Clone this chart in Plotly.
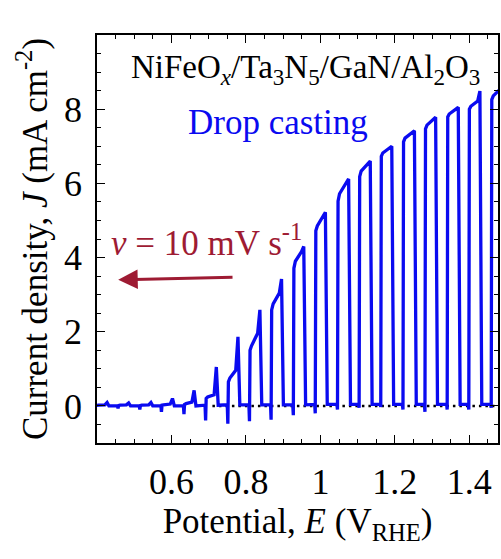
import plotly.graph_objects as go

# ---- data (chopped-light LSV) ----
# left edge (light-off transient) and right edge (light-on spike) of each illuminated segment, V_RHE
pulse_left = [0.397, 0.455, 0.5135, 0.5716, 0.6321, 0.6902, 0.7499, 0.8080, 0.8661, 0.9258,
              0.9847, 1.0444, 1.1025, 1.1606, 1.2203, 1.2793, 1.3390, 1.3971, 1.4573]
pulse_right = [0.427, 0.485, 0.5448, 0.6027, 0.6608, 0.7205, 0.7786, 0.8375, 0.8956, 0.9553,
               1.0134, 1.0758, 1.1339, 1.1917, 1.2525, 1.3095, 1.3703, 1.4284, 1.490]
dip_val = [0.0, -0.07, -0.10, -0.16, -0.22, -0.39, -0.48, -0.41, -0.37, -0.25,
           -0.20, -0.10, -0.05, -0.03, -0.10, -0.16, -0.10, -0.10, -0.05]
plateau_start = [0.02, 0.01, 0.01, 0.02, 0.04, 0.20, 0.65, 1.50, 2.59, 3.71,
                 4.72, 5.52, 6.18, 6.73, 7.12, 7.47, 7.79, 8.00, 8.26]
plateau_shoulder = [0.02, 0.02, 0.02, 0.03, 0.06, 0.24, 0.75, 1.62, 2.75, 3.90,
                    4.85, 5.72, 6.33, 6.82, 7.22, 7.57, 7.87, 8.08, 8.36]
plateau_end = [0.03, 0.03, 0.03, 0.05, 0.10, 0.30, 0.96, 1.96, 3.04, 4.16,
               5.12, 6.05, 6.52, 6.95, 7.36, 7.72, 8.00, 8.22, 8.55]
spike_val = [0.09, 0.08, 0.09, 0.20, 0.42, 1.05, 1.86, 2.59, 3.42, 4.30,
             5.22, 6.12, 6.60, 7.00, 7.42, 7.78, 8.05, 8.49, 8.60]
baseline_val = [0.0, 0.0, 0.0, 0.0, 0.0, 0.02, 0.03, 0.03, 0.03, 0.03,
                0.04, 0.04, 0.04, 0.04, 0.04, 0.04, 0.04, 0.04, 0.04]

zero_line_x = [0.71, 1.477]
zero_line_y = [0.0, 0.0]

x_ticks = [0.6, 0.8, 1.0, 1.2, 1.4]
x_tick_text = ["0.6", "0.8", "1", "1.2", "1.4"]
y_ticks = [0, 2, 4, 6, 8]

# ---- build the chopped trace path ----
xs, ys = [0.39], [0.0]
for L, R, d, p0, pm, p1, s, b in zip(pulse_left, pulse_right, dip_val, plateau_start,
                                      plateau_shoulder, plateau_end, spike_val, baseline_val):
    xs += [L, L + 0.0015, L + 0.003, L + 0.007, R - 0.006, R, R + 0.005]
    ys += [b, d, p0, pm, p1, s, b]

FONT = "Liberation Serif, Times New Roman, serif"
RED = "#9E1B33"
BLUE = "#0A0AF0"

fig = go.Figure()
fig.add_trace(go.Scatter(x=zero_line_x, y=zero_line_y, mode="lines",
                         line=dict(color="black", width=2.5, dash="2.5px,4px"),
                         hoverinfo="skip", showlegend=False))
fig.add_trace(go.Scatter(x=xs, y=ys, mode="lines",
                         line=dict(color=BLUE, width=3.3), showlegend=False))

axis_common = dict(showline=True, linecolor="black", linewidth=1.5, mirror="ticks",
                   ticks="inside", tickcolor="black", tickwidth=1.3, ticklen=8,
                   showgrid=False, zeroline=False,
                   tickfont=dict(family=FONT, size=36, color="black"))

fig.update_xaxes(range=[0.4, 1.477], tickmode="array", tickvals=x_ticks, ticktext=x_tick_text,
                 minor=dict(ticks="inside", dtick=0.05, tick0=0.4, ticklen=4,
                            tickcolor="black", tickwidth=1.2, showgrid=False),
                 title=dict(text="Potential, <i>E</i> (V<sub>RHE</sub>)",
                            font=dict(family=FONT, size=35, color="black"), standoff=8),
                 ticklabelstandoff=6,
                 **axis_common)
fig.update_yaxes(range=[-1, 10], tickmode="array", tickvals=y_ticks,
                 minor=dict(ticks="inside", dtick=0.5, tick0=0, ticklen=4,
                            tickcolor="black", tickwidth=1.2, showgrid=False),
                 title=dict(text="Current density, <i>J</i> (mA cm<sup>-2</sup>)",
                            font=dict(family=FONT, size=35, color="black"), standoff=6),
                 ticklabelstandoff=6,
                 **axis_common)

fig.add_annotation(x=0.4867, y=9.07, xref="x", yref="y", xanchor="left", yanchor="middle",
                   text="NiFeO<sub><i>x</i></sub>/Ta<sub>3</sub>N<sub>5</sub>/GaN/Al<sub>2</sub>O<sub>3</sub>",
                   showarrow=False, font=dict(family=FONT, size=33, color="black"))
fig.add_annotation(x=0.6386, y=7.64, xref="x", yref="y", xanchor="left", yanchor="middle",
                   text="Drop casting", showarrow=False,
                   font=dict(family=FONT, size=35, color=BLUE))
fig.add_annotation(x=0.4334, y=4.45, xref="x", yref="y", xanchor="left", yanchor="middle",
                   text="<i>v</i> = 10 mV s<sup>-1</sup>", showarrow=False,
                   font=dict(family=FONT, size=35, color=RED))
fig.add_annotation(x=0.457, y=3.40, ax=0.768, ay=3.47, xref="x", yref="y",
                   axref="x", ayref="y", text="", showarrow=True,
                   arrowhead=2, arrowsize=1.3, arrowwidth=3, arrowcolor=RED)

fig.update_layout(width=501, height=559, margin=dict(l=97, r=1, t=35, b=116),
                  plot_bgcolor="white", paper_bgcolor="white",
                  font=dict(family=FONT))

fig.write_html("out.html")
